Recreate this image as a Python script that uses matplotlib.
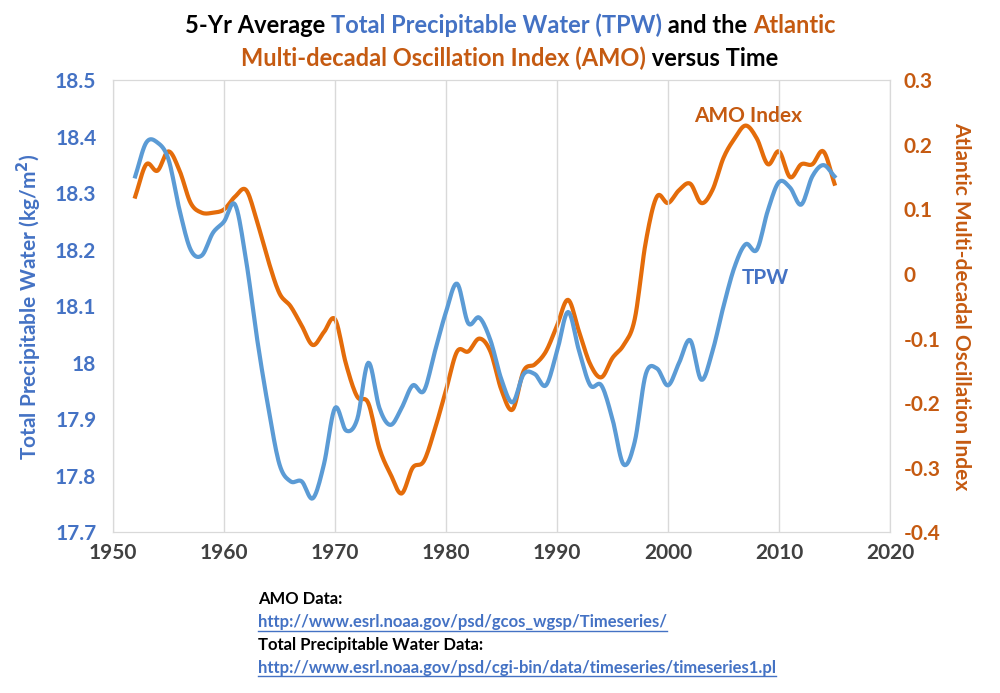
import matplotlib
matplotlib.use("Agg")
import matplotlib.pyplot as plt
import numpy as np

plt.rcParams['font.family'] = ['Lato', 'DejaVu Sans']
plt.rcParams['font.weight'] = 'bold'
plt.rcParams['axes.labelweight'] = 'bold'

years = list(range(1952, 2016))
tpw = [18.33, 18.39, 18.39, 18.36, 18.27, 18.20, 18.19, 18.23, 18.25, 18.28, 18.18, 18.04, 17.92, 17.82,
       17.79, 17.79, 17.76, 17.82, 17.92, 17.88, 17.90, 18.00, 17.92, 17.89, 17.92, 17.96, 17.95, 18.02,
       18.09, 18.14, 18.07, 18.08, 18.04, 17.97, 17.93, 17.98, 17.98, 17.96, 18.02, 18.09, 18.02, 17.96,
       17.96, 17.90, 17.82, 17.86, 17.98, 17.99, 17.96, 18.00, 18.04, 17.97, 18.02, 18.10, 18.17, 18.21,
       18.20, 18.27, 18.32, 18.31, 18.28, 18.33, 18.35, 18.33]
amo = [0.12, 0.17, 0.16, 0.19, 0.16, 0.11, 0.095, 0.095, 0.10, 0.12, 0.13, 0.08, 0.02, -0.03, -0.05, -0.08,
       -0.11, -0.09, -0.07, -0.14, -0.19, -0.20, -0.27, -0.31, -0.34, -0.30, -0.29, -0.24, -0.18, -0.12,
       -0.12, -0.10, -0.12, -0.18, -0.21, -0.15, -0.14, -0.12, -0.08, -0.04, -0.09, -0.14, -0.16, -0.13,
       -0.11, -0.07, 0.05, 0.12, 0.11, 0.13, 0.14, 0.11, 0.13, 0.18, 0.21, 0.23, 0.21, 0.17, 0.19, 0.15,
       0.17, 0.17, 0.19, 0.14]

def smooth(x, y, n=10):
    # Catmull-Rom curve through the points, like Excel's smoothed lines
    x = np.asarray(x, float); y = np.asarray(y, float)
    px = np.concatenate([[2*x[0]-x[1]], x, [2*x[-1]-x[-2]]])
    py = np.concatenate([[2*y[0]-y[1]], y, [2*y[-1]-y[-2]]])
    t = np.linspace(0, 1, n, endpoint=False)
    xs, ys = [], []
    for i in range(1, len(px)-2):
        for p, out in ((px, xs), (py, ys)):
            p0, p1, p2, p3 = p[i-1], p[i], p[i+1], p[i+2]
            out.extend(0.5*(2*p1 + (-p0+p2)*t + (2*p0-5*p1+4*p2-p3)*t**2 + (-p0+3*p1-3*p2+p3)*t**3))
    xs.append(x[-1]); ys.append(y[-1])
    return xs, ys

blue = "#5B9BD5"
orange = "#E46C0A"
tblue = "#4472C4"
tor = "#C55A11"

fig = plt.figure(figsize=(10, 6.93), dpi=100)
ax = fig.add_axes([0.113, 0.232, 0.777, 0.652])
ax2 = ax.twinx()

ax.plot(*smooth(years, tpw), color=blue, lw=3, zorder=3)
ax2.plot(*smooth(years, amo), color=orange, lw=3)
ax.set_zorder(ax2.get_zorder() + 1)
ax.patch.set_visible(False)

ax.set_xlim(1950, 2020)
ax.set_ylim(17.7, 18.5)
ax2.set_ylim(-0.4, 0.3)
ax.set_xticks(range(1950, 2021, 10))
ax.set_yticks(np.arange(17.7, 18.51, 0.1))
ax.set_yticklabels(["17.7", "17.8", "17.9", "18", "18.1", "18.2", "18.3", "18.4", "18.5"])
ax2.set_yticks(np.arange(-0.4, 0.31, 0.1))
ax2.set_yticklabels(["-0.4", "-0.3", "-0.2", "-0.1", "0", "0.1", "0.2", "0.3"])
ax.grid(axis='x', color="#d9d9d9", lw=1)
for a in (ax, ax2):
    for s in a.spines.values():
        s.set_color("#d9d9d9")
    a.tick_params(length=0, labelsize=15)
ax.tick_params(axis='y', colors=tblue, pad=12)
ax.tick_params(axis='x', colors="#404040", pad=8)
ax2.tick_params(axis='y', colors=tor, pad=10)
ax.set_ylabel("Total Precipitable Water (kg/m$^\\mathbf{2}$)", color=tblue, fontsize=15, labelpad=8)
ax2.set_ylabel("Atlantic Multi-decadal Oscillation Index", color=tor, fontsize=15, rotation=270, labelpad=22)

ax2.text(2007.2, 0.235, "AMO Index", color=tor, fontsize=15, ha='center')
ax.text(2008.8, 18.14, "TPW", color=tblue, fontsize=15, ha='center')

# multicolor title
fig.canvas.draw()
r = fig.canvas.get_renderer()
def line(parts, y):
    ts = [fig.text(0, y, s, color=c, fontsize=17, ha='left') for s, c in parts]
    ws = [t.get_window_extent(r).width for t in ts]
    x = (1000 - sum(ws)) / 2 + 10
    for t, w in zip(ts, ws):
        t.set_x(x / 1000); x += w
line([("5-Yr Average ", "black"), ("Total Precipitable Water (TPW)", tblue),
      (" and the ", "black"), ("Atlantic", tor)], 0.952)
line([("Multi-decadal Oscillation Index (AMO)", tor), (" versus Time", "black")], 0.905)

notes = [("AMO Data:", "black", 0.128),
         ("http://www.esrl.noaa.gov/psd/gcos_wgsp/Timeseries/", tblue, 0.095),
         ("Total Precipitable Water Data:", "black", 0.062),
         ("http://www.esrl.noaa.gov/psd/cgi-bin/data/timeseries/timeseries1.pl", tblue, 0.029)]
for s, c, y in notes:
    t = fig.text(0.258, y, s, fontsize=12, color=c)
    if c == tblue:
        w = t.get_window_extent(r).width / 1000
        fig.add_artist(plt.Line2D([0.258, 0.258 + w], [y - 0.005, y - 0.005], color=tblue, lw=1))

fig.savefig("out.png", dpi=100)
